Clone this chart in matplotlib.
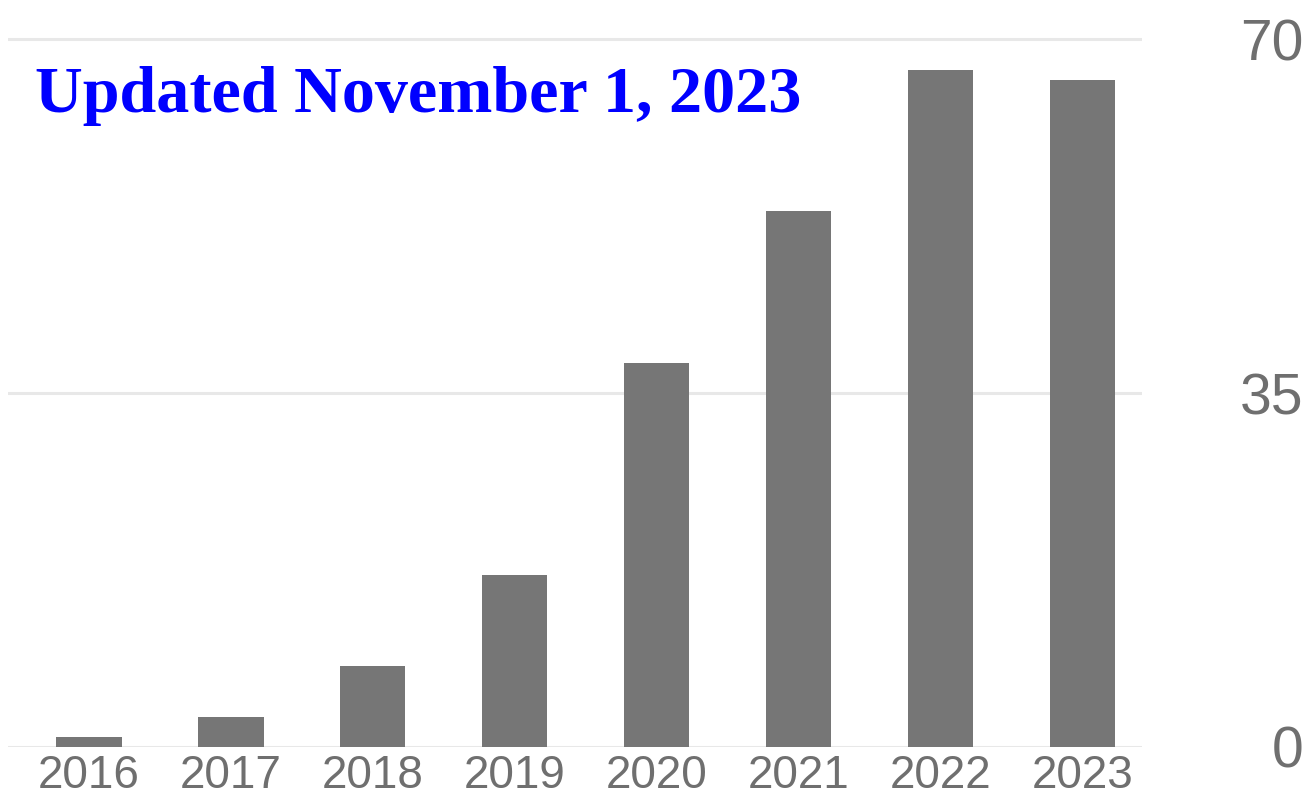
import matplotlib
matplotlib.use("Agg")
import matplotlib.pyplot as plt

years = ["2016", "2017", "2018", "2019", "2020", "2021", "2022", "2023"]
counts = [1, 3, 8, 17, 38, 53, 67, 66]
y_ticks = [0, 35, 70]

BAR_COLOR = "#767676"
GRID_COLOR = "#e8e8e8"
LABEL_COLOR = "#6f6f6f"

fig = plt.figure(figsize=(13.15, 8.02), dpi=100)
W, H = 1315, 802

# axes placed in pixel terms: x from 8 to 1142, y baseline at 747, 10.11 px/unit
px_per_unit = 10.11
ymax = 72
top_px = 747 - ymax * px_per_unit
ax = fig.add_axes([8 / W, 1 - 747 / H, (1142 - 8) / W, (747 - top_px) / H])

x = list(range(len(years)))
ax.bar(x, counts, width=0.46, color=BAR_COLOR, zorder=3)

ax.set_xlim(-0.571, 7.42)
ax.set_ylim(0, ymax)
ax.set_yticks(y_ticks)
ax.set_xticks(x)
ax.set_xticklabels(years)

ax.yaxis.grid(True, color=GRID_COLOR, linewidth=2.2, zorder=0)
ax.set_axisbelow(True)
for s in ax.spines.values():
    s.set_visible(False)

ax.yaxis.tick_right()
ax.tick_params(axis="y", length=0, pad=116, labelsize=41, labelcolor=LABEL_COLOR)
for lbl in ax.get_yticklabels():
    lbl.set_horizontalalignment("right")
    lbl.set_fontfamily("Liberation Sans")
ax.tick_params(axis="x", length=0, pad=5, labelsize=33, labelcolor=LABEL_COLOR)
for lbl in ax.get_xticklabels():
    lbl.set_fontfamily("Liberation Sans")

fig.text(35 / W, 1 - 112 / H, "Updated November 1, 2023", color="#0000ff",
         fontsize=47.6, fontweight="bold", family="Liberation Serif",
         ha="left", va="baseline")

fig.savefig("out.png", dpi=100)
